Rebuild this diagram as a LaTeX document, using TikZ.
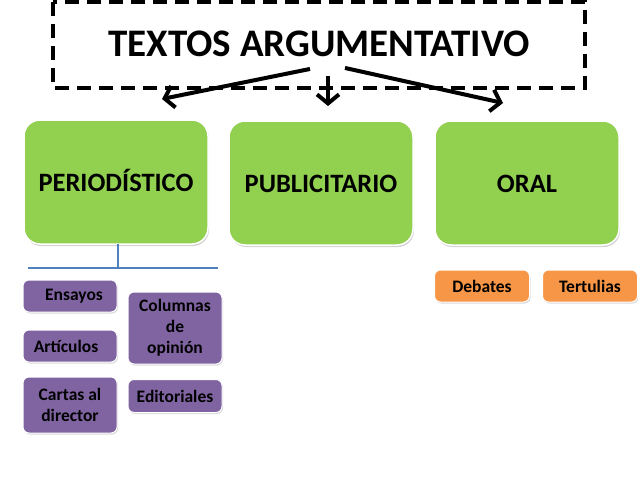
\documentclass[tikz,border=0pt]{standalone}
\usepackage{fontspec}
\setmainfont{Carlito}
\usetikzlibrary{arrows.meta,shadows}

\definecolor{tipogreen}{HTML}{92D050}
\definecolor{ejpurple}{HTML}{8064A2}
\definecolor{ejorange}{HTML}{F79646}
\definecolor{linkblue}{HTML}{4F81BD}

\tikzset{
  tipobox/.style={draw=white, line width=1.5pt, fill=tipogreen, rounded corners=16pt,
    drop shadow={shadow xshift=1pt, shadow yshift=-2pt, opacity=0.35},
    minimum width=184pt, minimum height=124pt, text height=18pt, text depth=0pt,
    font=\fontsize{26.5}{30}\selectfont\bfseries},
  ejbox/.style={draw=white, line width=1pt, fill=ejpurple, rounded corners=6pt,
    drop shadow={shadow xshift=1pt, shadow yshift=-1.5pt, opacity=0.3},
    minimum width=94pt, inner sep=2pt, align=center, font=\fontsize{17.5}{21}\selectfont\bfseries},
  orbox/.style={draw=white, line width=1pt, fill=ejorange, rounded corners=6pt,
    drop shadow={shadow xshift=1pt, shadow yshift=-1.5pt, opacity=0.3},
    minimum width=95pt, minimum height=32pt, font=\fontsize{17.5}{20}\selectfont\bfseries},
  bigarrow/.style={line width=4pt, -{Straight Barb[length=9pt, width=22pt, line width=4pt]}}
}

\begin{document}
\begin{tikzpicture}[x=1pt, y=-1pt]
\useasboundingbox (0,0) rectangle (638,479);

% titulo
\draw[line width=4pt, dash pattern=on 14pt off 8pt] (53,2) rectangle (585,88);
\node (title) at (319,43.5) {\fontsize{39}{42}\selectfont\bfseries TEXTOS ARGUMENTATIVO};

% tipos de texto
\node[tipobox] (perio) at (116,182) {PERIODÍSTICO};
\node[tipobox] (publi) at (321,183) {PUBLICITARIO};
\node[tipobox] (oral)  at (527,183) {ORAL};

% flechas
\coordinate (aleft)  at (162,99);
\coordinate (amid)   at (328,106);
\coordinate (aright) at (503,103);
\draw[bigarrow] ([shift={(-9,9)}]title.south) -- (aleft);
\draw[bigarrow] ([shift={(9,16)}]title.south) -- (amid);
\draw[bigarrow] ([shift={(26,8)}]title.south) -- (aright);

% ramas de periodistico
\coordinate (bleft)  at (28,268);
\coordinate (bright) at (218,268);
\draw[linkblue, line width=1.5pt] (118,244) -- (118,268);
\draw[linkblue, line width=1.5pt] (bleft) -- (bright);

\node[ejbox, minimum height=32pt] (ensayos)   at (70,296)  {\hspace{8pt}Ensayos};
\node[ejbox, minimum height=32pt] (articulos) at (70,346)  {Artículos\hspace{8pt}};
\node[ejbox, minimum height=56pt] (cartas)    at (70,405)  {Cartas al\\director};
\node[ejbox, minimum height=72pt] (columnas)  at (175,328) {Columnas\\de\\opinión};
\node[ejbox, minimum height=33pt] (editor)    at (175,396) {Editoriales};

% ramas de oral
\node[orbox] (debates)   at (482,286) {Debates};
\node[orbox] (tertulias) at (590,286) {Tertulias};
\end{tikzpicture}
\end{document}
